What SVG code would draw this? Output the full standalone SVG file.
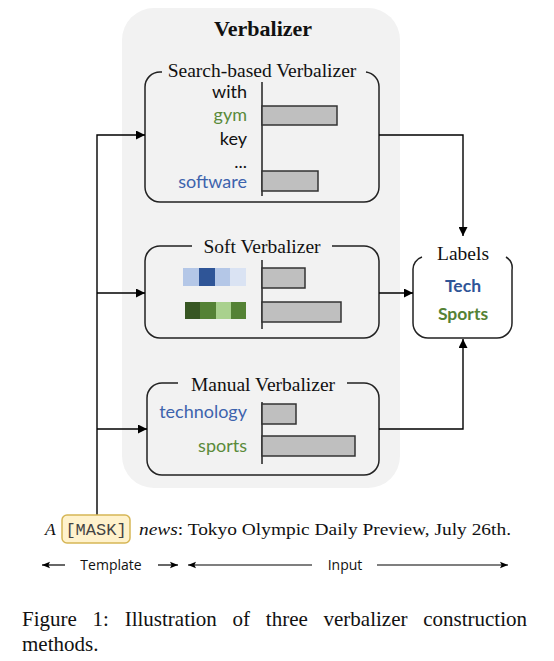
<svg xmlns="http://www.w3.org/2000/svg" width="554" height="661" viewBox="0 0 554 661">
<defs>
<marker id="ah" viewBox="0 0 10 10" refX="10" refY="5" markerWidth="9" markerHeight="9" markerUnits="userSpaceOnUse" orient="auto">
<path d="M0,0 L10,5 L0,10 z" fill="#000"/>
</marker>
<marker id="ahs" viewBox="0 0 10 10" refX="10" refY="5" markerWidth="8" markerHeight="8" markerUnits="userSpaceOnUse" orient="auto-start-reverse">
<path d="M0,1 L10,5 L0,9 L2,5 z" fill="#000"/>
</marker>
</defs>
<style>
.box{fill:none;stroke:#222;stroke-width:1.5}
.title{font-family:"Liberation Serif",serif;font-size:19.5px;fill:#111;text-anchor:middle}
.w{font-family:Lato,"Open Sans",sans-serif;font-size:18px;text-anchor:end;fill:#111}
.bar{fill:#bfbfbf;stroke:#333;stroke-width:1.5}
.axis{stroke:#222;stroke-width:1.5}
.conn{fill:none;stroke:#000;stroke-width:1.4}
.g{fill:#5a8a3a}
.b{fill:#3d63ad}
.small{font-family:"Open Sans","DejaVu Sans",sans-serif;font-size:14px;fill:#111;text-anchor:middle}
.cap{font-family:"Liberation Serif",serif;font-size:21px;fill:#111}
.sent{font-family:"Liberation Serif",serif;font-size:17.5px;fill:#111}
</style>
<rect width="554" height="661" fill="#fff"/>
<g id="panel">
<rect x="122" y="8" width="278" height="480" rx="32" fill="#f2f2f2"/>
<text x="263" y="36" font-family="Liberation Serif,serif" font-size="22" font-weight="bold" text-anchor="middle" fill="#111">Verbalizer</text>
</g>
<g id="search">
<path class="box" d="M162,72 H160 A15,15 0 0 0 145,87 V187 A15,15 0 0 0 160,202 H364 A15,15 0 0 0 379,187 V87 A15,15 0 0 0 366,72"/>
<text class="title" x="262" y="77">Search-based Verbalizer</text>
<line class="axis" x1="262" y1="82" x2="262" y2="196"/>
<rect class="bar" x="262" y="106" width="75" height="19"/>
<rect class="bar" x="262" y="171" width="56" height="20"/>
<text class="w" x="247" y="98">with</text>
<text class="w g" x="247" y="121">gym</text>
<text class="w" x="247" y="145">key</text>
<text class="w" x="247" y="168">...</text>
<text class="w b" x="247" y="188">software</text>
</g>
<g id="soft">
<path class="box" d="M192,246 H160 A15,15 0 0 0 145,261 V323 A15,15 0 0 0 160,338 H364 A15,15 0 0 0 379,323 V261 A15,15 0 0 0 364,246 H332"/>
<text class="title" x="262" y="253">Soft Verbalizer</text>
<line class="axis" x1="262" y1="260" x2="262" y2="329"/>
<rect class="bar" x="262" y="268" width="43" height="20"/>
<rect class="bar" x="262" y="302" width="79" height="20"/>
<rect x="183" y="268" width="16" height="18" fill="#b4c7e7"/>
<rect x="199" y="268" width="16" height="18" fill="#2f5597"/>
<rect x="215" y="268" width="15" height="18" fill="#b4c7e7"/>
<rect x="230" y="268" width="16" height="18" fill="#dae3f3"/>
<rect x="185" y="302" width="15" height="17" fill="#375623"/>
<rect x="200" y="302" width="16" height="17" fill="#548235"/>
<rect x="216" y="302" width="15" height="17" fill="#a9d18e"/>
<rect x="231" y="302" width="15" height="17" fill="#548235"/>
</g>
<g id="manual">
<path class="box" d="M178,383 H162 A15,15 0 0 0 147,398 V460 A15,15 0 0 0 162,475 H364 A15,15 0 0 0 379,460 V398 A15,15 0 0 0 364,383 H347"/>
<text class="title" x="263" y="391">Manual Verbalizer</text>
<line class="axis" x1="262" y1="402" x2="262" y2="464"/>
<rect class="bar" x="262" y="404" width="34" height="20"/>
<rect class="bar" x="262" y="436" width="93" height="20"/>
<text class="w b" x="247" y="418">technology</text>
<text class="w g" x="247" y="452">sports</text>
</g>
<g id="labels">
<path class="box" d="M422,257 A13,13 0 0 0 413,270 V323 A15,15 0 0 0 428,338 H497 A15,15 0 0 0 512,323 V270 A13,13 0 0 0 506,257"/>
<text class="title" x="463" y="260">Labels</text>
<text x="463" y="292" font-family="Lato,'Open Sans',sans-serif" font-size="17.5" font-weight="bold" text-anchor="middle" fill="#2f5597">Tech</text>
<text x="463" y="320" font-family="Lato,'Open Sans',sans-serif" font-size="17.5" font-weight="bold" text-anchor="middle" fill="#548235">Sports</text>
</g>
<g id="connectors">
<path class="conn" d="M97,515 V135 H145" marker-end="url(#ah)"/>
<path class="conn" d="M97,293 H145" marker-end="url(#ah)"/>
<path class="conn" d="M97,429 H147" marker-end="url(#ah)"/>
<path class="conn" d="M379,135 H463 V236" marker-end="url(#ah)"/>
<path class="conn" d="M379,293 H413" marker-end="url(#ah)"/>
<path class="conn" d="M379,429 H463 V339" marker-end="url(#ah)"/>
</g>
<g id="input">
<rect x="62" y="515" width="68" height="28" rx="5" fill="#fff2cc" stroke="#d6b656" stroke-width="1.5"/>
<text x="45" y="535" class="sent" font-style="italic">A</text>
<text x="96" y="535" font-family="Liberation Mono,monospace" font-size="17" text-anchor="middle" fill="#444">[MASK]</text>
<text x="139" y="535" class="sent" textLength="372" lengthAdjust="spacingAndGlyphs"><tspan font-style="italic">news</tspan>: Tokyo Olympic Daily Preview, July 26th.</text>
</g>
<g id="spans">
<line x1="65" y1="565" x2="42" y2="565" stroke="#000" stroke-width="1.2" marker-end="url(#ahs)"/>
<text class="small" x="111" y="570">Template</text>
<line x1="158" y1="565" x2="178" y2="565" stroke="#000" stroke-width="1.2" marker-end="url(#ahs)"/>
<line x1="312" y1="565" x2="188" y2="565" stroke="#000" stroke-width="1.2" marker-end="url(#ahs)"/>
<text class="small" x="345" y="570">Input</text>
<line x1="377" y1="565" x2="508" y2="565" stroke="#000" stroke-width="1.2" marker-end="url(#ahs)"/>
</g>
<g id="caption">
<text class="cap" x="22" y="626" word-spacing="10.5">Figure 1: Illustration of three verbalizer construction</text>
<text class="cap" x="22" y="651">methods.</text>
</g>
</svg>
